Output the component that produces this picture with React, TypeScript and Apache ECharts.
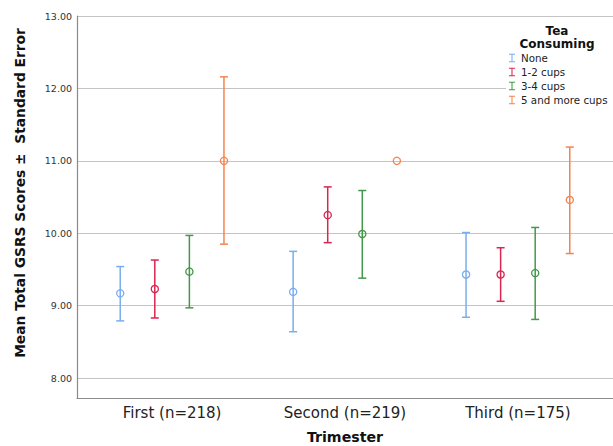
import React, { useEffect, useRef } from "react";
import * as echarts from "echarts";

const categories = ["First (n=218)", "Second (n=219)", "Third (n=175)"];
const groups = ["None", "1-2 cups", "3-4 cups", "5 and more cups"];
const groupColors = ["#78aeee", "#d92551", "#43984a", "#f48450"];
const groupOffsets = [-0.3, -0.1, 0.1, 0.3];

const meanNone = [9.17, 9.19, 9.43];
const mean12 = [9.23, 10.25, 9.43];
const mean34 = [9.47, 9.99, 9.45];
const mean5 = [11.0, 11.0, 10.46];

const lowNone = [8.79, 8.64, 8.84];
const low12 = [8.83, 9.87, 9.06];
const low34 = [8.97, 9.38, 8.81];
const low5: (number | null)[] = [9.85, null, 9.72];

const highNone = [9.54, 9.75, 10.01];
const high12 = [9.63, 10.64, 9.8];
const high34 = [9.97, 10.59, 10.08];
const high5: (number | null)[] = [12.16, null, 11.19];

const means = [meanNone, mean12, mean34, mean5];
const lows: (number | null)[][] = [lowNone, low12, low34, low5];
const highs: (number | null)[][] = [highNone, high12, high34, high5];

const FONT = "DejaVu Sans";
const legendIcon =
  "path://M0,0 H7 V1.2 H4.1 V8.8 H7 V10 H0 V8.8 H2.9 V1.2 H0 Z";

export default function App() {
  const ref = useRef<HTMLDivElement>(null);
  useEffect(() => {
    if (!ref.current) return;
    const chart = echarts.init(ref.current, undefined, { renderer: "svg" });
    const series = groups.map((g, gi) => ({
      type: "custom",
      name: g,
      itemStyle: { color: groupColors[gi] },
      data: categories.map((_, ci) => [ci + groupOffsets[gi], means[gi][ci]]),
      renderItem: (params: any, api: any) => {
        const ci = params.dataIndex;
        const x = api.value(0);
        const m = api.value(1);
        const color = groupColors[gi];
        const c = api.coord([x, m]);
        const children: any[] = [];
        const lo = lows[gi][ci];
        const hi = highs[gi][ci];
        if (lo != null && hi != null) {
          const pl = api.coord([x, lo]);
          const ph = api.coord([x, hi]);
          const st = { stroke: color, lineWidth: 1.5 };
          children.push({ type: "line", shape: { x1: pl[0], y1: pl[1], x2: ph[0], y2: ph[1] }, style: st });
          children.push({ type: "line", shape: { x1: pl[0] - 4, y1: pl[1], x2: pl[0] + 4, y2: pl[1] }, style: st });
          children.push({ type: "line", shape: { x1: ph[0] - 4, y1: ph[1], x2: ph[0] + 4, y2: ph[1] }, style: st });
        }
        children.push({
          type: "circle",
          shape: { cx: c[0], cy: c[1], r: 3.6 },
          style: { stroke: color, fill: "none", lineWidth: 1.3 },
        });
        return { type: "group", children };
      },
    }));

    chart.setOption({
      animation: false,
      backgroundColor: "#ffffff",
      textStyle: { fontFamily: FONT },
      title: {
        text: "Tea\nConsuming",
        left: 552,
        top: 19,
        textAlign: "center",
        textStyle: { fontFamily: FONT, fontSize: 12, fontWeight: "bold", color: "#111", lineHeight: 13 },
      },
      legend: {
        orient: "vertical",
        left: 506,
        top: 49,
        padding: [4, 40, 4, 3],
        backgroundColor: "#ffffff",
        itemWidth: 6,
        itemHeight: 9,
        itemGap: 4,
        textStyle: { fontFamily: FONT, fontSize: 10.3, color: "#222", padding: [0, 0, 0, 1] },
        data: groups.map((g) => ({ name: g, icon: legendIcon })),
      },
      grid: { left: 77, right: 0, top: 16, bottom: 48, containLabel: false, outerBoundsMode: "none" },
      xAxis: {
        type: "value",
        min: -0.55,
        max: 2.55,
        name: "Trimester",
        nameLocation: "middle",
        nameGap: 32,
        nameTextStyle: { fontFamily: FONT, fontSize: 14.2, fontWeight: "bold", color: "#111" },
        axisLine: { show: true, onZero: false, lineStyle: { color: "#8a8a8a", width: 1.2 } },
        axisTick: { show: false },
        splitLine: { show: false },
        axisLabel: {
          customValues: [0, 1, 2],
          formatter: (v: number) => categories[Math.round(v)] ?? "",
          fontFamily: FONT,
          fontSize: 15,
          color: "#222",
          margin: 7,
        },
      },
      yAxis: {
        type: "value",
        min: 7.725,
        max: 13,
        name: "Mean Total GSRS Scores \u00b1  Standard Error",
        nameLocation: "middle",
        nameGap: 50,
        nameTextStyle: { fontFamily: FONT, fontSize: 13.8, fontWeight: "bold", color: "#111", padding: [0, 0, 0, 28] },
        axisLine: { show: true, onZero: false, lineStyle: { color: "#8a8a8a", width: 1.2 } },
        axisTick: { show: false },
        splitLine: { show: true, lineStyle: { color: "#c4c4c4", width: 1 } },
        axisLabel: {
          showMinLabel: false,
          formatter: (v: number) => (Math.abs(v - Math.round(v)) < 1e-6 ? v.toFixed(2) : ""),
          fontFamily: FONT,
          fontSize: 9.5,
          color: "#333",
          margin: 5,
        },
      },
      series,
    });
    return () => chart.dispose();
  }, []);
  return (
    <div
      ref={ref}
      style={{ position: "absolute", left: 0, top: 0, width: 613, height: 446 }}
    />
  );
}
